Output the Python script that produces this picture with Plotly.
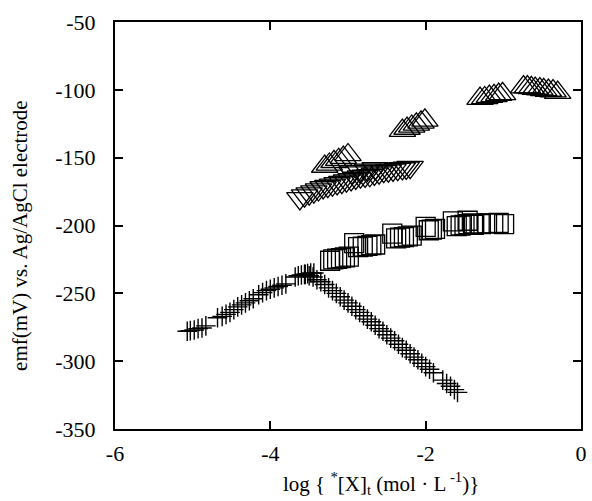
import plotly.graph_objects as go

# Crosses (+): rising branch and falling branch
cross_x = [-5.07, -5.03, -4.98, -4.93, -4.88, -4.83,
           -4.68, -4.62, -4.57, -4.52,
           -4.47, -4.42, -4.37, -4.32, -4.27, -4.22,
           -4.15, -4.10, -4.05, -4.00, -3.95, -3.90, -3.85, -3.80,
           -3.68, -3.64, -3.60, -3.56, -3.52, -3.48, -3.44,
           -3.55, -3.50, -3.45, -3.40, -3.35, -3.30, -3.25, -3.20, -3.15, -3.10,
           -3.05, -3.00, -2.95, -2.90, -2.85, -2.80, -2.75, -2.70, -2.65, -2.60,
           -2.55, -2.50, -2.45, -2.40, -2.35, -2.30, -2.25, -2.20, -2.15, -2.10,
           -2.05, -2.00, -1.95, -1.90, -1.78, -1.73, -1.68, -1.63, -1.59]
cross_y = [-278, -277.5, -277, -276, -275.5, -274,
           -268, -267, -265.5, -264,
           -262, -260, -258.5, -257, -255.5, -254,
           -251, -249.5, -248, -247, -246, -245, -244, -243,
           -238, -237, -236.5, -236, -235.5, -235, -235,
           -236, -237, -238, -240, -241.5, -243.5, -246, -248, -250, -252.5,
           -255, -257, -259.5, -262, -264, -266.5, -269, -271, -273.5, -276,
           -278, -280.5, -283, -285, -287.5, -290, -292, -294.5, -297, -299,
           -301.5, -304, -306, -308.5, -314, -316.5, -318.5, -321, -323]

# Squares
square_x = [-3.23, -3.19, -3.14, -3.09, -3.04, -2.99,
            -2.92, -2.87, -2.81, -2.75, -2.70, -2.65,
            -2.43, -2.38, -2.33, -2.28, -2.23, -2.18,
            -2.00, -1.96, -1.92, -1.88,
            -1.65, -1.60, -1.55, -1.50, -1.45, -1.39,
            -1.46, -1.38, -1.29, -1.21, -1.13, -1.06, -0.99]
square_y = [-226, -225, -224.5, -224, -223.5, -223,
            -213, -216, -215.5, -215, -214.5, -214,
            -206, -209.5, -209, -208.5, -208, -207.5,
            -201, -203.5, -203, -202.5,
            -197, -200.5, -200, -199.5, -199, -198.5,
            -196.5, -199.5, -199, -198.5, -198.5, -198, -199]

# Up-triangles
tri_up_x = [-3.30, -3.24, -3.18, -3.12, -3.06, -3.00,
            -2.30, -2.24, -2.18, -2.12, -2.06, -2.01,
            -1.30, -1.24, -1.18, -1.12, -1.06, -1.01,
            -0.74, -0.69, -0.64, -0.59, -0.53, -0.48, -0.42, -0.36, -0.30]
tri_up_y = [-156.5, -155, -153, -151.5, -150, -148,
            -130, -128.5, -127, -125.5, -124, -122.5,
            -106.5, -106, -105, -104.5, -103.5, -103,
            -98, -98, -98.5, -99, -99.5, -100, -100.5, -101, -102]

# Down-triangles
tri_down_x = [-3.62, -3.56, -3.50, -3.44, -3.38, -3.32, -3.26, -3.20, -3.14, -3.08,
              -3.02, -2.96, -2.90, -2.84, -2.78, -2.72, -2.66, -2.60, -2.54, -2.48,
              -2.42, -2.36, -2.30, -2.25, -2.20,
              -2.95, -2.85, -2.75, -2.65]
tri_down_y = [-180, -178, -176.5, -175, -173.5, -172, -171, -170, -169, -168,
              -167, -166, -165, -164, -163.5, -163, -162, -161, -160, -159.5,
              -159, -158.5, -158, -157.5, -157,
              -161, -160, -159, -158]

x_ticks = [-6, -4, -2, 0]
y_ticks = [-350, -300, -250, -200, -150, -100, -50]

FONT = "Liberation Serif"

fig = go.Figure()
fig.add_trace(go.Scatter(x=cross_x, y=cross_y, mode="markers",
                         marker=dict(symbol="cross-thin-open", size=14, color="black",
                                     line=dict(color="black", width=1.4))))
fig.add_trace(go.Scatter(x=square_x, y=square_y, mode="markers",
                         marker=dict(symbol="square-open", size=19, color="black",
                                     line=dict(color="black", width=1.3))))
fig.add_trace(go.Scatter(x=tri_up_x, y=tri_up_y, mode="markers",
                         marker=dict(symbol="triangle-up-open", size=23, color="black",
                                     line=dict(color="black", width=1.3))))
fig.add_trace(go.Scatter(x=tri_down_x, y=tri_down_y, mode="markers",
                         marker=dict(symbol="triangle-down-open", size=23, color="black",
                                     line=dict(color="black", width=1.3))))

axis_common = dict(showline=True, linecolor="black", linewidth=2, mirror="ticks",
                   ticks="inside", ticklen=8, tickwidth=2, tickcolor="black",
                   showgrid=False, zeroline=False,
                   tickfont=dict(family=FONT, size=22, color="black"))

fig.update_layout(
    width=592, height=501,
    margin=dict(l=115, r=5, t=22, b=72),
    paper_bgcolor="white", plot_bgcolor="white",
    showlegend=False,
    xaxis=dict(range=[-6, 0], tickvals=x_ticks, ticktext=[str(v) for v in x_ticks],
               ticklabelstandoff=4, **axis_common),
    yaxis=dict(range=[-350, -50], tickvals=y_ticks, ticktext=[str(v) for v in y_ticks],
               ticklabelstandoff=13, **axis_common),
    annotations=[
        dict(text="log { <sup>*</sup>[X]<sub>t</sub> (mol · L<sup> -1</sup>)}",
             xref="paper", yref="paper", x=0.57, y=-0.133,
             xanchor="center", yanchor="middle", showarrow=False,
             font=dict(family=FONT, size=21, color="black")),
        dict(text="emf(mV) vs. Ag/AgCl electrode",
             xref="paper", yref="paper", x=-0.2055, y=0.475, textangle=-90,
             xanchor="center", yanchor="middle", showarrow=False,
             font=dict(family=FONT, size=21, color="black")),
    ],
)

fig.write_html("out.html")
